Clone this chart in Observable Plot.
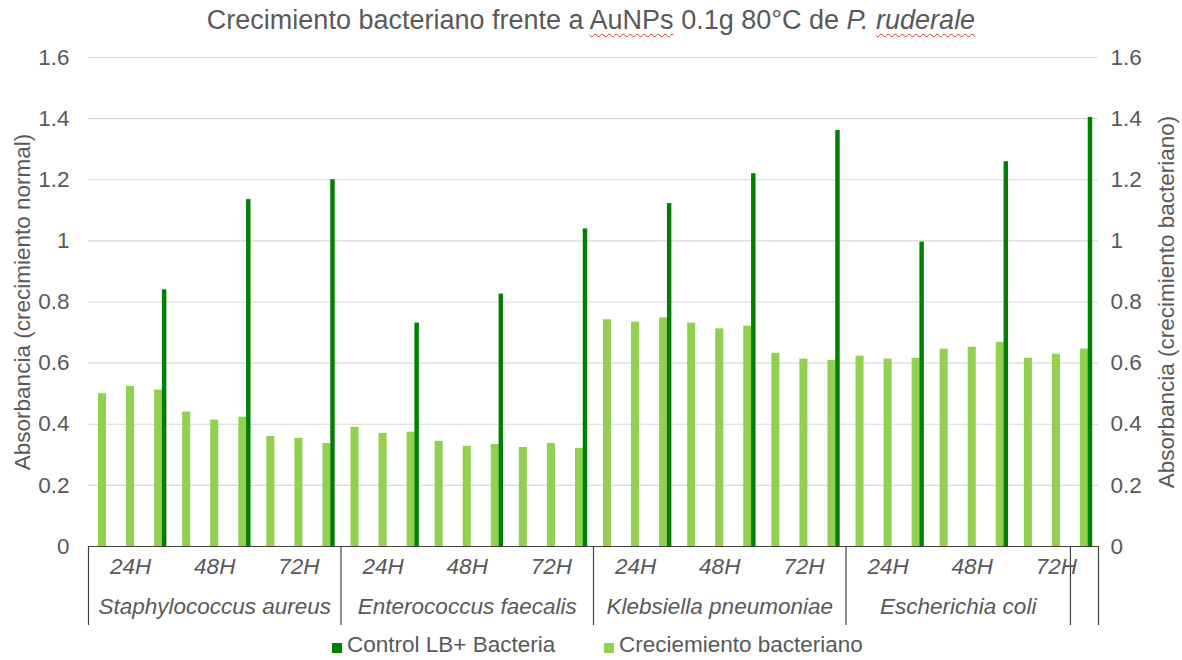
<!DOCTYPE html>
<html>
<head>
<meta charset="utf-8">
<script src="https://cdn.jsdelivr.net/npm/d3@7"></script>
<script src="https://cdn.jsdelivr.net/npm/@observablehq/plot@0.6"></script>
<style>
  body { margin: 0; background: #fff; font-family: "Liberation Sans", Arial, sans-serif; }
  #wrap { position: relative; width: 1182px; height: 660px; overflow: hidden; }
  #chart { position: absolute; left: 0; top: 0; }
  #title { position: absolute; left: 0; top: 7px; width: 1182px; text-align: center;
           font-size: 27px; line-height: 27px; color: #595959; white-space: nowrap; }
  .sp { text-decoration: underline wavy #e03030; text-decoration-thickness: 1px; text-underline-offset: 4px; }
  .lg { position: absolute; top: 634px; font-size: 22.5px; line-height: 22px; color: #595959; white-space: nowrap; }
  .sq { position: absolute; top: 643px; width: 10px; height: 10px; }
</style>
</head>
<body>
<div id="wrap">
  <div id="chart"></div>
  <div id="title">Crecimiento bacteriano frente a <span class="sp">AuNPs</span> 0.1g 80°C de <i>P. <span class="sp">ruderale</span></i></div>
  <div class="sq" style="left:332px;background:#008000"></div>
  <div class="lg" style="left:347px">Control LB+ Bacteria</div>
  <div class="sq" style="left:604px;background:#92d050"></div>
  <div class="lg" style="left:619px">Creciemiento bacteriano</div>
</div>
<script>
// ---- data ----
const species = ["Staphylococcus aureus", "Enterococcus faecalis", "Klebsiella pneumoniae", "Escherichia coli"];
const times = ["24H", "48H", "72H"];
const replicates = 3;
// Creciemiento bacteriano (3 replicates per time)
const growth = [
  0.500, 0.524, 0.512,  0.440, 0.414, 0.423,  0.360, 0.354, 0.337,
  0.390, 0.370, 0.374,  0.344, 0.328, 0.334,  0.324, 0.337, 0.321,
  0.742, 0.734, 0.748,  0.731, 0.712, 0.721,  0.632, 0.613, 0.609,
  0.623, 0.613, 0.616,  0.646, 0.652, 0.668,  0.616, 0.629, 0.646
];
// Control LB+ Bacteria (one per time, drawn at last replicate)
const control = [0.840, 1.135, 1.200, 0.731, 0.826, 1.039, 1.122, 1.220, 1.361, 0.996, 1.259, 1.404];
const yTicks = [0, 0.2, 0.4, 0.6, 0.8, 1, 1.2, 1.4, 1.6];
const leftTitle = "Absorbancia (crecimiento normal)";
const rightTitle = "Absorbancia (crecimiento bacteriano)";

// ---- derived tables ----
const nPer = times.length * replicates;
const bars = growth.map((v, i) => ({i, v}));
const ctrl = control.map((v, k) => ({i: k * replicates + replicates - 1, v}));
const timeLabels = [];
species.forEach((s, si) => times.forEach((t, ti) => timeLabels.push({x: si * nPer + ti * replicates + replicates / 2, t})));
// outer category level as Excel drew it (the very last cell forms its own blank group)
const outer = growth.map((_, i) => species[Math.floor(i / nPer)]);
outer[outer.length - 1] = "";
const groups = [];
outer.forEach((s, i) => {
  const g = groups[groups.length - 1];
  if (g && g.s === s) g.end = i + 1; else groups.push({s, start: i, end: i + 1});
});
const dividers = [0, ...groups.map(g => g.end)];
const speciesLabels = groups.filter(g => g.s).map(g => ({x: (g.start + g.end) / 2, s: g.s}));

const W = 1182, H = 660, mT = 57, mB = 114, mL = 88, mR = 84;
const axisDepth = 79;
const frameH = H - mT - mB;
const grey = "#595959";
const fs = 22.5;

const chart = Plot.plot({
  width: W, height: H,
  marginTop: mT, marginBottom: mB, marginLeft: mL, marginRight: mR,
  style: {fontFamily: "'Liberation Sans', Arial, sans-serif", color: grey, background: "white"},
  x: {type: "linear", domain: [0, growth.length], axis: null},
  y: {domain: [0, 1.6], axis: null},
  marks: [
    Plot.gridY(yTicks, {stroke: "#d9d9d9", strokeOpacity: 1, strokeWidth: 1.2}),
    Plot.axisY(yTicks, {anchor: "left", tickSize: 0, tickPadding: 19, fontSize: fs, label: null,
      tickFormat: d => String(+d.toFixed(1))}),
    Plot.axisY(yTicks, {anchor: "right", tickSize: 0, tickPadding: 12, fontSize: fs, label: null,
      tickFormat: d => String(+d.toFixed(1)), textAnchor: "start"}),
    Plot.rectY(bars, {x1: d => d.i, x2: d => d.i + 1, y: "v", fill: "#92d050", insetLeft: 10, insetRight: 10}),
    Plot.rectY(ctrl, {x1: d => d.i, x2: d => d.i + 1, y: "v", fill: "#008000", insetLeft: 17.8, insetRight: 5.8}),
    Plot.ruleY([0], {stroke: "#404040", strokeWidth: 1.2}),
    Plot.ruleX(dividers, {x: d => d, stroke: "#404040", strokeWidth: 1.2, insetTop: frameH - axisDepth, dy: axisDepth}),
    Plot.text(timeLabels, {x: "x", text: "t", frameAnchor: "bottom", dy: 27, fontSize: fs, fontStyle: "italic", fill: grey}),
    Plot.text(speciesLabels, {x: "x", text: "s", frameAnchor: "bottom", dy: 67, fontSize: fs, fontStyle: "italic", fill: grey}),
    Plot.text([leftTitle], {frameAnchor: "left", dx: -66, rotate: -90, textAnchor: "middle", fontSize: fs, fill: grey}),
    Plot.text([rightTitle], {frameAnchor: "right", dx: 68, rotate: -90, textAnchor: "middle", fontSize: fs, fill: grey})
  ]
});
document.getElementById("chart").appendChild(chart);
</script>
</body>
</html>
